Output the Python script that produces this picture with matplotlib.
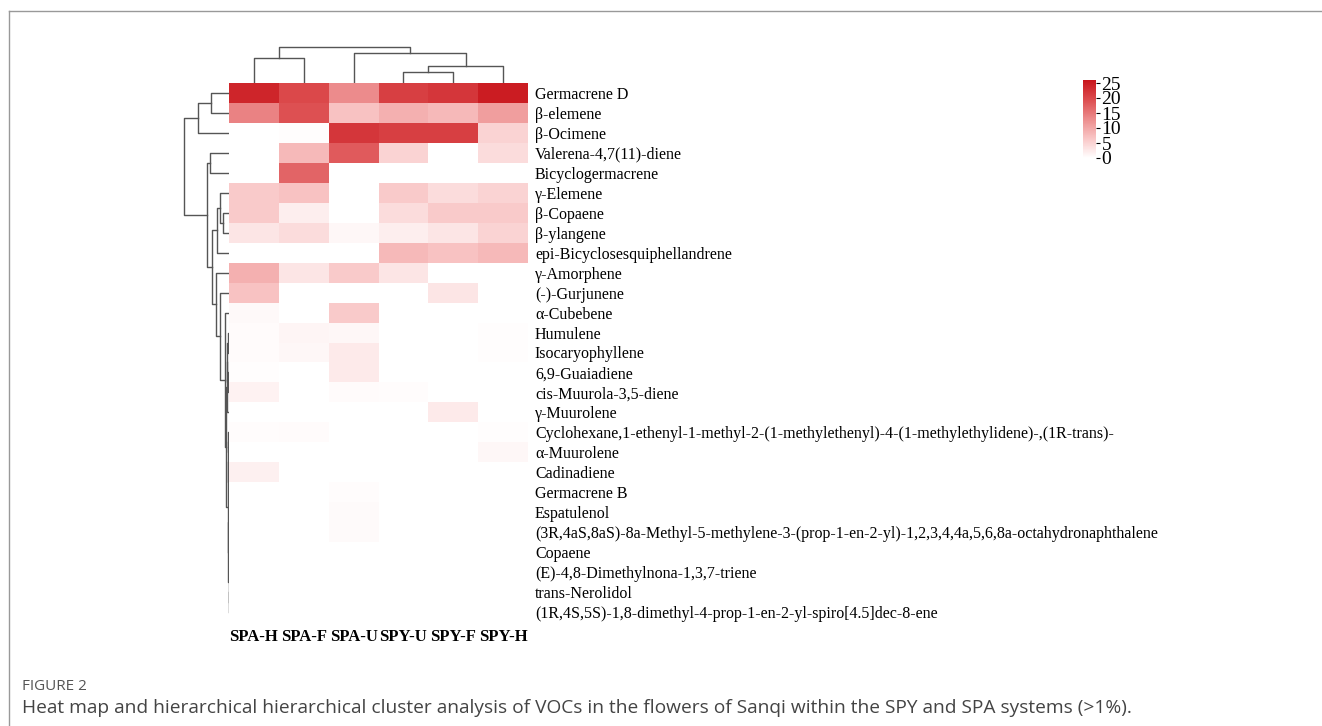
import numpy as np
import matplotlib
matplotlib.use('Agg')
import matplotlib.pyplot as plt
from matplotlib.colors import LinearSegmentedColormap
from matplotlib.lines import Line2D

# Samples (column order as displayed)
samples = ['SPA-H', 'SPA-F', 'SPA-U', 'SPY-U', 'SPY-F', 'SPY-H']

# Compounds (row order as displayed)
compounds = [
    'Germacrene D', 'β-elemene', 'β-Ocimene', 'Valerena-4,7(11)-diene',
    'Bicyclogermacrene', 'γ-Elemene', 'β-Copaene', 'β-ylangene',
    'epi-Bicyclosesquiphellandrene', 'γ-Amorphene', '(-)-Gurjunene',
    'α-Cubebene', 'Humulene', 'Isocaryophyllene', '6,9-Guaiadiene',
    'cis-Muurola-3,5-diene', 'γ-Muurolene',
    'Cyclohexane,1-ethenyl-1-methyl-2-(1-methylethenyl)-4-(1-methylethylidene)-,(1R-trans)-',
    'α-Muurolene', 'Cadinadiene', 'Germacrene B', 'Espatulenol',
    '(3R,4aS,8aS)-8a-Methyl-5-methylene-3-(prop-1-en-2-yl)-1,2,3,4,4a,5,6,8a-octahydronaphthalene',
    'Copaene', '(E)-4,8-Dimethylnona-1,3,7-triene', 'trans-Nerolidol',
    '(1R,4S,5S)-1,8-dimethyl-4-prop-1-en-2-yl-spiro[4.5]dec-8-ene',
]

# Relative content (%), one list per sample
spa_h = [24, 14, 0, 0, 0, 6, 6, 3, 0, 9, 7, 0.8, 0.5, 0.5, 0.3, 1.5, 0, 0.4, 0, 1.8, 0, 0, 0, 0, 0, 0, 0]
spa_f = [20, 19, 0.3, 8, 17, 7, 2, 4, 0, 3, 0, 0, 1.2, 1, 0, 0, 0, 0.5, 0, 0, 0, 0, 0, 0, 0, 0, 0]
spa_u = [13, 7, 22, 18, 0, 0, 0, 1, 0, 6, 0, 6, 1, 2.5, 2.5, 0.5, 0, 0, 0, 0, 0.4, 0.7, 0.7, 0, 0, 0, 0]
spy_u = [21, 9, 21, 5, 0, 6, 4, 2, 8, 3, 0, 0, 0, 0, 0, 0.4, 0, 0, 0, 0, 0, 0, 0, 0, 0, 0, 0]
spy_f = [22, 8, 21, 0, 0, 4, 6, 3, 7, 0, 3, 0, 0, 0, 0, 0, 2.5, 0, 0, 0, 0, 0, 0, 0, 0, 0, 0]
spy_h = [25, 11, 5, 4, 0, 5, 6, 5, 8, 0, 0, 0, 0.3, 0.3, 0, 0, 0, 0.3, 1, 0, 0, 0, 0, 0, 0, 0.1, 0]

# Cluster trees: (child a, child b, merge height); children >= n are earlier merges
col_tree = [(0, 1, 25), (3, 4, 11), (7, 5, 17), (2, 8, 30), (6, 9, 36)]
row_tree = [
    (0, 1, 18), (27, 2, 31), (3, 4, 19), (6, 7, 6), (5, 30, 9), (31, 8, 12),
    (12, 13, 1.0), (14, 15, 1.2), (33, 34, 1.8), (16, 35, 2.4),
    (17, 18, 0.6), (19, 20, 0.5), (37, 38, 1.0), (21, 22, 0.4),
    (23, 24, 0.2), (25, 26, 0.2), (41, 42, 0.3), (40, 43, 0.6), (39, 44, 1.4),
    (36, 45, 3.0), (11, 46, 4.5), (10, 47, 9), (9, 48, 13),
    (32, 49, 17), (29, 50, 22), (28, 51, 45),
]

values = np.array([spa_h, spa_f, spa_u, spy_u, spy_f, spy_h]).T

W, H = 1322, 726
fig = plt.figure(figsize=(W / 100, H / 100), dpi=100)


def rect(x0, y0, x1, y1):
    return [x0 / W, 1 - y1 / H, (x1 - x0) / W, (y1 - y0) / H]


def draw_tree(ax, tree, n, top):
    pos = {i: float(i) for i in range(n)}
    hgt = {i: 0.0 for i in range(n)}
    for k, (a, b, h) in enumerate(tree):
        xs = [pos[a], pos[a], pos[b], pos[b]]
        ys = [hgt[a], h, h, hgt[b]]
        if top:
            ax.plot(xs, ys, color='#555555', lw=1.0)
        else:
            ax.plot(ys, xs, color='#555555', lw=1.0)
        pos[n + k] = (pos[a] + pos[b]) / 2
        hgt[n + k] = h


cmap = LinearSegmentedColormap.from_list(
    'wr', [(0, '#FFFFFF'), (0.25, '#F9C6C6'), (0.5, '#EC8C8C'), (0.75, '#DC4C4E'), (1, '#C8141B')])
serif = 'Liberation Serif'

# heat map
ax = fig.add_axes(rect(229, 83, 528, 622))
mesh = ax.pcolormesh(values, cmap=cmap, vmin=0, vmax=26)
ax.set_xlim(0, len(samples))
ax.set_ylim(len(compounds), 0)
for s in ax.spines.values():
    s.set_visible(False)
ax.set_xticks(np.arange(len(samples)) + 0.5)
ax.set_xticklabels(samples, fontfamily=serif, fontweight='bold', fontsize=12)
ax.yaxis.tick_right()
ax.set_yticks(np.arange(len(compounds)) + 0.5)
ax.set_yticklabels(compounds, fontfamily=serif, fontsize=11.5)
ax.tick_params(length=0, pad=5)

# column dendrogram
axc = fig.add_axes(rect(229, 45, 528, 83))
draw_tree(axc, col_tree, len(samples), True)
axc.set_xlim(-0.5, len(samples) - 0.5)
axc.set_ylim(0, 38)
axc.axis('off')

# row dendrogram
axr = fig.add_axes(rect(180, 83, 229, 622))
draw_tree(axr, row_tree, len(compounds), False)
axr.set_ylim(len(compounds) - 0.5, -0.5)
axr.set_xlim(49, 0)
axr.axis('off')

# colour bar
cax = fig.add_axes(rect(1083, 80, 1096, 158))
cb = fig.colorbar(mesh, cax=cax, ticks=[0, 5, 10, 15, 20, 25])
cb.outline.set_visible(False)
cax.tick_params(length=3, width=0.8, pad=1, labelsize=14)
for t in cax.get_yticklabels():
    t.set_fontfamily(serif)

# figure frame and caption
fig.add_artist(Line2D([8.5 / W, 1], [1 - 11 / H, 1 - 11 / H], color='#999999', lw=1))
fig.add_artist(Line2D([8.5 / W, 8.5 / W], [0, 1 - 11 / H], color='#999999', lw=1))
fig.text(22 / W, 1 - 687 / H, 'FIGURE 2', fontfamily='Open Sans', fontsize=11,
         color='#555555', va='center')
fig.text(22 / W, 1 - 708 / H,
         'Heat map and hierarchical hierarchical cluster analysis of VOCs in the flowers '
         'of Sanqi within the SPY and SPA systems (>1%).',
         fontfamily='Open Sans', fontsize=13.8, color='#444444', va='center')

fig.savefig('out.png', dpi=100)
